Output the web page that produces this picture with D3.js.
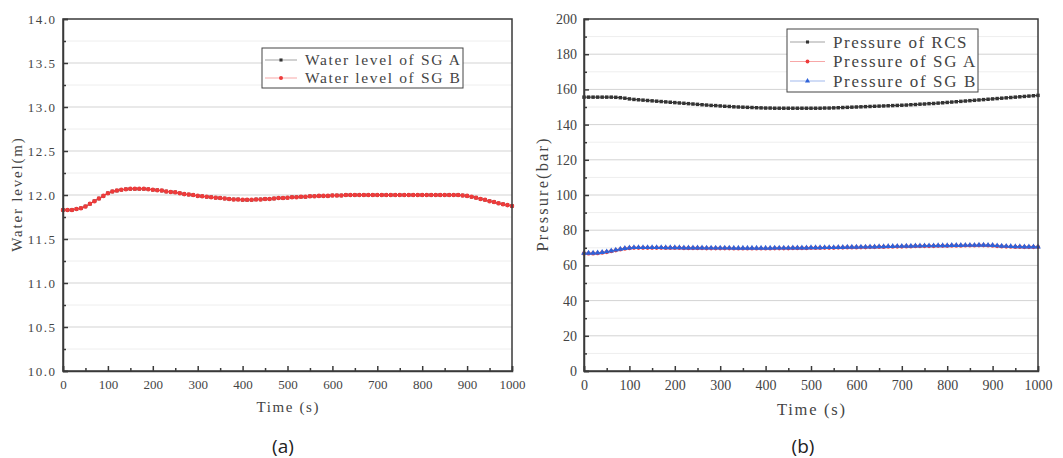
<!DOCTYPE html>
<html>
<head>
<meta charset="utf-8">
<script src="https://cdn.jsdelivr.net/npm/d3@7"></script>
<style>
  body { margin: 0; background: #fff; }
  svg { display: block; }
</style>
</head>
<body>
<svg id="chart" width="1063" height="458"></svg>
<script>
// sampled every 10 s, 0..1000 s
var times = d3.range(0, 1001, 10);

// (a) water level, m
var levelSgA = [
  11.83,11.83,11.83,11.84,11.85,11.87,11.90,11.93,11.96,11.99,
  12.02,12.04,12.05,12.06,12.065,12.07,12.07,12.07,12.07,12.065,
  12.06,12.055,12.05,12.04,12.035,12.03,12.02,12.01,12.005,12.0,
  11.99,11.985,11.98,11.975,11.97,11.965,11.96,11.955,11.95,11.95,
  11.945,11.945,11.945,11.95,11.95,11.955,11.955,11.96,11.965,11.965,
  11.97,11.975,11.975,11.98,11.98,11.985,11.985,11.99,11.99,11.99,
  11.995,11.995,11.995,12.0,12.0,12.0,12.0,12.0,12.0,12.0,
  12.0,12.0,12.0,12.0,12.0,12.0,12.0,12.0,12.0,12.0,
  12.0,12.0,12.0,12.0,12.0,12.0,12.0,12.0,12.0,11.995,
  11.99,11.98,11.97,11.955,11.945,11.93,11.92,11.905,11.895,11.885,
  11.875];
var levelSgB = [
  11.83,11.83,11.83,11.84,11.85,11.87,11.90,11.93,11.96,11.99,
  12.02,12.04,12.05,12.06,12.065,12.07,12.07,12.07,12.07,12.065,
  12.06,12.055,12.05,12.04,12.035,12.03,12.02,12.01,12.005,12.0,
  11.99,11.985,11.98,11.975,11.97,11.965,11.96,11.955,11.95,11.95,
  11.945,11.945,11.945,11.95,11.95,11.955,11.955,11.96,11.965,11.965,
  11.97,11.975,11.975,11.98,11.98,11.985,11.985,11.99,11.99,11.99,
  11.995,11.995,11.995,12.0,12.0,12.0,12.0,12.0,12.0,12.0,
  12.0,12.0,12.0,12.0,12.0,12.0,12.0,12.0,12.0,12.0,
  12.0,12.0,12.0,12.0,12.0,12.0,12.0,12.0,12.0,11.995,
  11.99,11.98,11.97,11.955,11.945,11.93,11.92,11.905,11.895,11.885,
  11.875];

// (b) pressure, bar
var pressRcs = [
  155.6,155.6,155.6,155.6,155.6,155.6,155.6,155.5,155.3,155.0,
  154.6,154.3,154.1,153.9,153.7,153.5,153.3,153.1,152.9,152.7,
  152.5,152.3,152.1,151.9,151.7,151.5,151.3,151.1,150.9,150.8,
  150.6,150.4,150.3,150.1,150.0,149.9,149.8,149.7,149.6,149.5,
  149.4,149.4,149.3,149.3,149.3,149.3,149.3,149.3,149.3,149.3,
  149.3,149.3,149.3,149.4,149.4,149.5,149.6,149.7,149.8,149.9,
  150.0,150.1,150.2,150.3,150.4,150.5,150.6,150.7,150.8,150.9,
  151.0,151.1,151.3,151.4,151.6,151.7,151.9,152.0,152.2,152.4,
  152.6,152.8,153.0,153.2,153.4,153.6,153.8,154.0,154.2,154.4,
  154.6,154.8,155.0,155.2,155.4,155.6,155.8,156.0,156.2,156.4,
  156.6];
var pressSgA = [
  66.8,66.8,66.8,66.9,67.2,67.6,68.1,68.6,69.1,69.5,
  69.8,70.0,70.0,70.0,70.0,70.0,70.0,70.0,69.9,69.9,
  69.9,69.9,69.8,69.8,69.8,69.8,69.8,69.7,69.7,69.7,
  69.7,69.7,69.7,69.6,69.6,69.6,69.6,69.6,69.6,69.6,
  69.6,69.6,69.7,69.7,69.7,69.7,69.8,69.8,69.8,69.8,
  69.9,69.9,69.9,70.0,70.0,70.0,70.1,70.1,70.2,70.2,
  70.2,70.3,70.3,70.4,70.4,70.5,70.5,70.6,70.6,70.7,
  70.7,70.8,70.8,70.9,70.9,71.0,71.0,71.0,71.1,71.1,
  71.1,71.2,71.2,71.2,71.3,71.3,71.3,71.4,71.4,71.3,
  71.2,71.0,70.8,70.7,70.6,70.5,70.5,70.4,70.4,70.4,
  70.4];
var pressSgB = [
  67.0,67.0,67.0,67.1,67.4,67.8,68.3,68.8,69.3,69.7,
  70.0,70.2,70.2,70.2,70.2,70.2,70.2,70.2,70.1,70.1,
  70.1,70.1,70.0,70.0,70.0,70.0,70.0,69.9,69.9,69.9,
  69.9,69.9,69.9,69.8,69.8,69.8,69.8,69.8,69.8,69.8,
  69.8,69.8,69.9,69.9,69.9,69.9,70.0,70.0,70.0,70.0,
  70.1,70.1,70.1,70.2,70.2,70.2,70.3,70.3,70.4,70.4,
  70.4,70.5,70.5,70.6,70.6,70.7,70.7,70.8,70.8,70.9,
  70.9,71.0,71.0,71.1,71.1,71.2,71.2,71.2,71.3,71.3,
  71.3,71.4,71.4,71.4,71.5,71.5,71.5,71.6,71.6,71.5,
  71.4,71.2,71.0,70.9,70.8,70.7,70.7,70.6,70.6,70.6,
  70.6];

var xTicks = [0, 100, 200, 300, 400, 500, 600, 700, 800, 900, 1000];
var levelTicks = [10.0, 10.5, 11.0, 11.5, 12.0, 12.5, 13.0, 13.5, 14.0];
var pressTicks = [0, 20, 40, 60, 80, 100, 120, 140, 160, 180, 200];

var svg = d3.select("#chart");
var axisColor = "#3a3a3a";
var serifFont = "Liberation Serif, Times New Roman, DejaVu Serif, serif";

function markerPath(shape, size) {
  var sym = shape === "square" ? d3.symbolSquare : shape === "triangle" ? d3.symbolTriangle : d3.symbolCircle;
  return d3.symbol().type(sym).size(size)();
}

// SimSun-like look: serif glyphs stretched to a fixed advance per character
function simText(sel, size, charW) {
  sel.attr("font-family", serifFont)
    .style("font-family", serifFont)
    .style("font-size", size + "px")
    .attr("fill", "#444");
  if (charW) {
    sel.each(function() {
      var n = this.textContent.length;
      d3.select(this).attr("textLength", n * charW).attr("lengthAdjust", "spacing");
    });
  }
  return sel;
}

function drawPanel(cfg) {
  var x = d3.scaleLinear().domain([0, 1000]).range([cfg.left, cfg.right]);
  var y = d3.scaleLinear().domain(cfg.yDomain).range([cfg.bottom, cfg.top]);
  var g = svg.append("g");

  // minor grid
  g.selectAll(".minor-grid")
    .data(cfg.yMinor)
    .enter()
    .append("line")
    .attr("x1", cfg.left).attr("x2", cfg.right)
    .attr("y1", d => y(d)).attr("y2", d => y(d))
    .attr("stroke", "#eeeeee").attr("stroke-width", 1);

  // major grid
  g.selectAll(".major-grid")
    .data(cfg.yTicks.slice(1, -1))
    .enter()
    .append("line")
    .attr("x1", cfg.left).attr("x2", cfg.right)
    .attr("y1", d => y(d)).attr("y2", d => y(d))
    .attr("stroke", "#d3d3d3").attr("stroke-width", 1);

  // series
  cfg.series.forEach(function(s) {
    var line = d3.line().x((d, i) => x(times[i])).y(d => y(d));
    g.append("path")
      .datum(s.values)
      .attr("fill", "none")
      .attr("stroke", s.color)
      .attr("stroke-width", 1)
      .attr("d", line);
    g.selectAll(null)
      .data(s.values)
      .enter()
      .append("path")
      .attr("d", markerPath(s.shape, s.size))
      .attr("transform", (d, i) => "translate(" + x(times[i]) + "," + y(d) + ")")
      .attr("fill", s.color);
  });

  // frame
  g.append("rect")
    .attr("x", cfg.left).attr("y", cfg.top)
    .attr("width", cfg.right - cfg.left).attr("height", cfg.bottom - cfg.top)
    .attr("fill", "none").attr("stroke", axisColor).attr("stroke-width", 1.5);

  // x axis (ticks pointing inward)
  var xAxis = g.append("g")
    .attr("transform", "translate(0," + cfg.bottom + ")")
    .call(d3.axisBottom(x).tickValues(xTicks).tickSize(-5).tickPadding(9).tickFormat(d3.format("d")))
    .attr("font-family", serifFont);
  g.append("g")
    .attr("transform", "translate(0," + cfg.bottom + ")")
    .call(d3.axisBottom(x).tickValues(d3.range(50, 1000, 100)).tickSize(-3).tickFormat(""))
    .call(a => a.select(".domain").remove());

  // y axis
  var yAxis = g.append("g")
    .attr("transform", "translate(" + cfg.left + ",0)")
    .call(d3.axisLeft(y).tickValues(cfg.yTicks).tickSize(-5).tickPadding(cfg.yPad).tickFormat(cfg.yFormat))
    .attr("font-family", serifFont);
  g.append("g")
    .attr("transform", "translate(" + cfg.left + ",0)")
    .call(d3.axisLeft(y).tickValues(cfg.yMinor).tickSize(-3).tickFormat(""))
    .call(a => a.select(".domain").remove());

  g.selectAll(".domain").attr("stroke", axisColor).attr("stroke-width", 1.5);
  g.selectAll(".tick line").attr("stroke", axisColor).attr("stroke-width", 1.5);
  simText(xAxis.selectAll(".tick text"), cfg.tickFont, 0);
  simText(yAxis.selectAll(".tick text"), cfg.tickFont, cfg.yTickCharW);

  // axis titles
  simText(g.append("text")
    .attr("x", (cfg.left + cfg.right) / 2)
    .attr("y", cfg.xTitleY)
    .attr("text-anchor", "middle")
    .text("Time (s)"), cfg.titleFont, cfg.titleCharW);
  simText(g.append("text")
    .attr("transform", "translate(" + cfg.yTitleX + "," + ((cfg.top + cfg.bottom) / 2) + ") rotate(-90)")
    .attr("text-anchor", "middle")
    .text(cfg.yTitle), cfg.titleFont, cfg.yTitleCharW);

  // legend
  var lg = cfg.legend;
  g.append("rect")
    .attr("x", lg.x).attr("y", lg.y)
    .attr("width", lg.w).attr("height", lg.h)
    .attr("fill", "#fff").attr("stroke", "#444").attr("stroke-width", 1);
  cfg.series.forEach(function(s, i) {
    var cy = lg.y + lg.first + i * lg.step;
    g.append("line")
      .attr("x1", lg.x + 3).attr("x2", lg.x + 3 + lg.sample)
      .attr("y1", cy).attr("y2", cy)
      .attr("stroke", s.color).attr("stroke-opacity", 0.45).attr("stroke-width", 1);
    g.append("path")
      .attr("d", markerPath(s.shape, s.size * 0.8))
      .attr("transform", "translate(" + (lg.x + 3 + lg.sample / 2) + "," + cy + ")")
      .attr("fill", s.color);
    simText(g.append("text")
      .attr("x", lg.x + lg.textX)
      .attr("y", cy)
      .attr("dy", "0.35em")
      .text(s.name), lg.font, lg.charW);
  });

  // panel caption
  g.append("text")
    .attr("x", cfg.captionX)
    .attr("y", 446)
    .attr("dy", "0.35em")
    .attr("text-anchor", "middle")
    .attr("fill", "#222")
    .style("font-family", "'Open Sans', 'Liberation Sans', sans-serif")
    .style("font-size", "19px")
    .text(cfg.caption);
}

drawPanel({
  left: 63, right: 512, top: 19, bottom: 371,
  yDomain: [10, 14],
  yTicks: levelTicks,
  yMinor: [10.25, 10.75, 11.25, 11.75, 12.25, 12.75, 13.25, 13.75],
  yFormat: d3.format(".1f"),
  yPad: 8,
  tickFont: 13,
  yTickCharW: 6.8,
  titleFont: 15,
  titleCharW: 7.75,
  yTitleCharW: 8.1,
  xTitleY: 412,
  yTitleX: 22,
  yTitle: "Water level(m)",
  caption: "(a)", captionX: 283,
  legend: { x: 262, y: 48, w: 201, h: 40, first: 12, step: 18, sample: 32, textX: 43, font: 15.5, charW: 8.15 },
  series: [
    { name: "Water level of SG A", values: levelSgA, color: "#333333", shape: "square", size: 12 },
    { name: "Water level of SG B", values: levelSgB, color: "#ee3b3b", shape: "circle", size: 16 }
  ]
});

drawPanel({
  left: 584, right: 1038, top: 19, bottom: 371,
  yDomain: [0, 200],
  yTicks: pressTicks,
  yMinor: [10, 30, 50, 70, 90, 110, 130, 150, 170, 190],
  yFormat: d3.format("d"),
  yPad: 7,
  tickFont: 14,
  yTickCharW: 0,
  titleFont: 16.5,
  titleCharW: 8.5,
  yTitleCharW: 8.7,
  xTitleY: 415,
  yTitleX: 548,
  yTitle: "Pressure(bar)",
  caption: "(b)", captionX: 803,
  legend: { x: 787, y: 29, w: 191, h: 63, first: 13, step: 19.5, sample: 35, textX: 46, font: 17, charW: 8.9 },
  series: [
    { name: "Pressure of RCS", values: pressRcs, color: "#333333", shape: "square", size: 12 },
    { name: "Pressure of SG A", values: pressSgA, color: "#ee3b3b", shape: "circle", size: 14 },
    { name: "Pressure of SG B", values: pressSgB, color: "#2f62d8", shape: "triangle", size: 14 }
  ]
});
</script>
</body>
</html>
